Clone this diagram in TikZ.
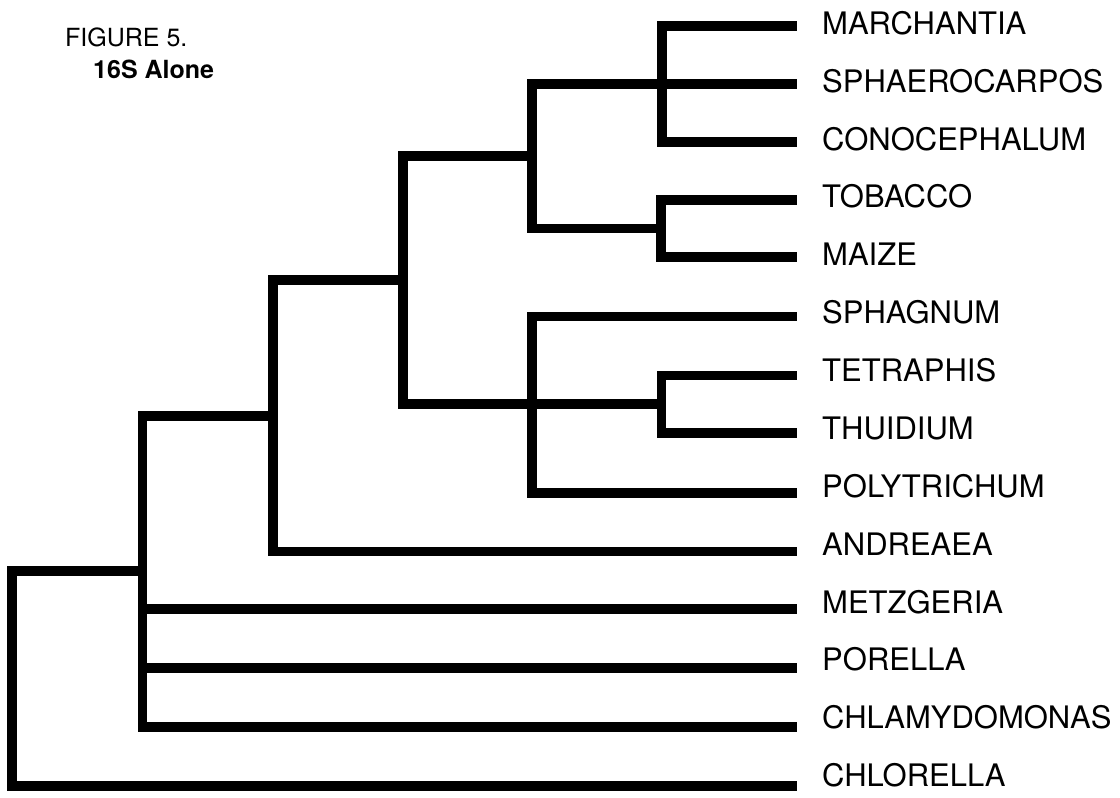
\documentclass[tikz,border=0pt]{standalone}
\usepackage{fontspec}
\setmainfont{TeX Gyre Heros}
\begin{document}
\begin{tikzpicture}[x=1pt,y=-1pt,
  branch/.style={line width=9.8pt, line join=miter, line cap=butt},
  taxon/.style={anchor=base west, inner sep=0pt, font=\fontsize{31}{37}\selectfont},
  titletext/.style={anchor=base west, inner sep=0pt, font=\fontsize{25}{30}\selectfont}]
\useasboundingbox[fill=white] (0,0) rectangle (1120,798);

% title
\node[titletext] (fig) at (65,46) {FIGURE 5.};
\node[titletext, font=\fontsize{25}{30}\selectfont\bfseries] (sub) at (93,78) {16S Alone};

% leaf ends
\coordinate (l0) at (797,26);
\coordinate (l1) at (797,84);
\coordinate (l2) at (797,142);
\coordinate (l3) at (797,200);
\coordinate (l4) at (797,257);
\coordinate (l5) at (797,316.5);
\coordinate (l6) at (797,375.5);
\coordinate (l7) at (797,433);
\coordinate (l8) at (797,492.7);
\coordinate (l9) at (797,551.5);
\coordinate (l10) at (797,609);
\coordinate (l11) at (797,668);
\coordinate (l12) at (797,726.7);
\coordinate (l13) at (797,786);

% internal nodes
\coordinate (n6a) at (662,84);
\coordinate (n6b) at (661,228.5);
\coordinate (n5a) at (532,156.25);
\coordinate (n7b) at (661.5,404.3);
\coordinate (n5b) at (532,404.3);
\coordinate (n4) at (403,280.3);
\coordinate (n3) at (273,415.9);
\coordinate (n2) at (142.5,571.3);
\coordinate (root) at (12,678.65);

% labels
\foreach \i/\name in {0/MARCHANTIA,1/SPHAEROCARPOS,2/CONOCEPHALUM,3/TOBACCO,4/MAIZE,
  5/SPHAGNUM,6/TETRAPHIS,7/THUIDIUM,8/POLYTRICHUM,9/ANDREAEA,10/METZGERIA,
  11/PORELLA,12/CHLAMYDOMONAS,13/CHLORELLA}
  \node[taxon] (t\i) at (822,{34.3+\i*57.88}) {\name};

% branches
\draw[branch] (n6a) |- (l0);
\draw[branch] (n6a) |- (l1);
\draw[branch] (n6a) |- (l2);
\draw[branch] (n6b) |- (l3);
\draw[branch] (n6b) |- (l4);
\draw[branch] (n5a) |- (n6a);
\draw[branch] (n5a) |- (l1);
\draw[branch] (n5a) |- (n6b);
\draw[branch] (n7b) |- (l6);
\draw[branch] (n7b) |- (l7);
\draw[branch] (n5b) |- (l5);
\draw[branch] (n5b) |- (n7b);
\draw[branch] (n5b) |- (l8);
\draw[branch] (n4) |- (n5a);
\draw[branch] (n4) |- (n5b);
\draw[branch] (n3) |- (n4);
\draw[branch] (n3) |- (l9);
\draw[branch] (n2) |- (n3);
\draw[branch] (n2) |- (l10);
\draw[branch] (n2) |- (l11);
\draw[branch] (n2) |- (l12);
\draw[branch] (root) |- (n2);
\draw[branch] (root) |- (l13);
\end{tikzpicture}
\end{document}
